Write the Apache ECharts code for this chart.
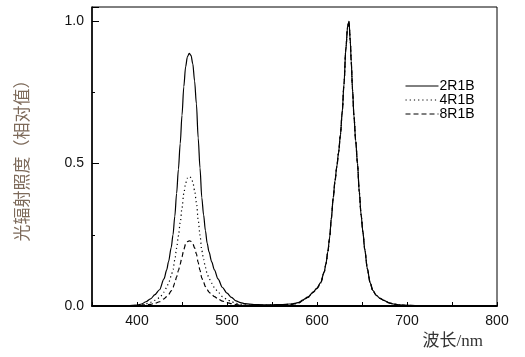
<!DOCTYPE html>
<html lang="zh">
<head>
    <meta charset="UTF-8">
    <title>光辐射照度</title>
    <script src="https://cdn.jsdelivr.net/npm/echarts@6.0.0/dist/echarts.min.js"></script>
    <style>
        html, body { margin: 0; padding: 0; background: #fff; }
    </style>
</head>
<body>
    <div id="main" style="width: 525px;height:357px;"></div>

    <script>
        // 波长 (nm)
        var wavelengths = [350, 360, 370, 380, 390, 400, 405, 410, 415, 420, 425, 430, 433, 435, 438, 440, 442, 444, 446, 448,
            450, 452, 454, 456, 458, 460, 462, 464, 466, 468, 470, 472, 474, 476, 478, 480, 483, 486, 490, 495,
            500, 505, 510, 515, 520, 530, 540, 550, 560, 570, 575, 580, 584, 590, 596, 600, 604, 608, 610, 612,
            614, 616, 618, 620, 622, 624, 626, 628, 630, 632, 634, 635.5, 637, 638, 639.5, 641, 643, 645, 647, 649,
            651, 653, 656, 659, 662, 666, 670, 674, 680, 685, 690, 700, 720, 760, 800];

        var seriesNames = ['2R1B', '4R1B', '8R1B'];

        var values2R1B = [0, 0, 0, 0.001, 0.001, 0.003, 0.007, 0.015, 0.025, 0.04, 0.057, 0.095, 0.127, 0.155, 0.205, 0.25, 0.315, 0.395, 0.48, 0.57,
            0.67, 0.77, 0.84, 0.875, 0.887, 0.88, 0.85, 0.79, 0.71, 0.59, 0.485, 0.38, 0.32, 0.265, 0.22, 0.19, 0.155, 0.127, 0.095, 0.065,
            0.045, 0.03, 0.018, 0.012, 0.008, 0.005, 0.004, 0.004, 0.005, 0.007, 0.009, 0.013, 0.021, 0.032, 0.05, 0.063, 0.082, 0.12, 0.15, 0.19,
            0.24, 0.31, 0.38, 0.44, 0.49, 0.54, 0.6, 0.68, 0.78, 0.9, 0.98, 1.0, 0.93, 0.86, 0.76, 0.67, 0.58, 0.5, 0.4, 0.32,
            0.26, 0.2, 0.13, 0.082, 0.055, 0.037, 0.027, 0.02, 0.011, 0.007, 0.004, 0.002, 0.001, 0, 0];

        var values4R1B = [0, 0, 0, 0, 0.001, 0.002, 0.004, 0.008, 0.013, 0.02, 0.029, 0.049, 0.065, 0.08, 0.105, 0.128, 0.162, 0.203, 0.246, 0.292,
            0.344, 0.395, 0.431, 0.449, 0.455, 0.451, 0.436, 0.405, 0.364, 0.303, 0.249, 0.195, 0.164, 0.136, 0.113, 0.097, 0.08, 0.065, 0.049, 0.033,
            0.023, 0.015, 0.009, 0.006, 0.004, 0.003, 0.003, 0.003, 0.004, 0.006, 0.008, 0.012, 0.02, 0.031, 0.049, 0.062, 0.081, 0.119, 0.149, 0.189,
            0.239, 0.309, 0.379, 0.439, 0.489, 0.539, 0.6, 0.68, 0.78, 0.9, 0.98, 1.0, 0.93, 0.86, 0.76, 0.67, 0.58, 0.5, 0.4, 0.32,
            0.26, 0.2, 0.13, 0.082, 0.055, 0.037, 0.027, 0.02, 0.011, 0.007, 0.004, 0.002, 0.001, 0, 0];

        var values8R1B = [0, 0, 0, 0, 0, 0.001, 0.002, 0.004, 0.006, 0.01, 0.015, 0.025, 0.033, 0.04, 0.053, 0.065, 0.081, 0.102, 0.124, 0.147,
            0.173, 0.199, 0.217, 0.226, 0.229, 0.227, 0.219, 0.204, 0.183, 0.152, 0.125, 0.098, 0.083, 0.068, 0.057, 0.049, 0.04, 0.033, 0.025, 0.017,
            0.012, 0.008, 0.005, 0.003, 0.002, 0.002, 0.002, 0.002, 0.003, 0.005, 0.007, 0.011, 0.019, 0.03, 0.048, 0.061, 0.08, 0.118, 0.148, 0.188,
            0.238, 0.308, 0.378, 0.438, 0.488, 0.538, 0.6, 0.68, 0.78, 0.9, 0.98, 1.0, 0.93, 0.86, 0.76, 0.67, 0.58, 0.5, 0.4, 0.32,
            0.26, 0.2, 0.13, 0.082, 0.055, 0.037, 0.027, 0.02, 0.011, 0.007, 0.004, 0.002, 0.001, 0, 0];

        var lineTypes = ['solid', [1.2, 3], [5, 3]];

        function toPairs(ys) {
            return wavelengths.map(function (x, i) { return [x, ys[i]]; });
        }

        var allValues = [values2R1B, values4R1B, values8R1B];

        var myChart = echarts.init(document.getElementById('main'));
        var option = {
            backgroundColor: '#fff',
            animation: false,
            grid: {
                left: 92, right: 28, top: 7, bottom: 51,
                show: true, borderColor: '#000', borderWidth: 1
            },
            legend: {
                orient: 'vertical',
                left: 400,
                top: 74,
                itemWidth: 33,
                itemHeight: 10,
                itemGap: 0,
                data: seriesNames,
                itemStyle: { opacity: 0 },
                lineStyle: { width: 1 },
                textStyle: { fontFamily: 'Liberation Sans, Arial', fontSize: 14, lineHeight: 14, color: '#000', padding: [0, 0, 0, -4] }
            },
            xAxis: {
                type: 'value',
                min: 350,
                max: 800,
                interval: 50,
                name: '波长/nm',
                nameLocation: 'end',
                nameGap: -14,
                nameTextStyle: {
                    fontFamily: 'Liberation Serif, Noto Sans CJK SC',
                    fontSize: 17, color: '#333',
                    align: 'right', verticalAlign: 'top',
                    padding: [27, 0, 0, 0]
                },
                axisLine: { lineStyle: { color: '#000', width: 2 } },
                axisTick: { inside: true, length: 4, lineStyle: { color: '#000' } },
                splitLine: { show: false },
                axisLabel: {
                    interval: 0,
                    margin: 8,
                    fontFamily: 'Liberation Sans, Arial',
                    fontSize: 14,
                    color: '#111',
                    formatter: function (v) { return v % 100 === 0 ? String(v) : ''; }
                }
            },
            yAxis: {
                type: 'value',
                min: 0,
                max: 1.05,
                interval: 0.5,
                name: '光辐射照度（相对值）',
                nameLocation: 'middle',
                nameRotate: 90,
                nameGap: 62,
                nameTextStyle: { fontFamily: 'Noto Sans CJK SC', fontSize: 17, color: '#7d6a5a' },
                axisLine: { show: true, lineStyle: { color: '#000', width: 1.5 } },
                axisTick: { inside: true, length: 7, lineStyle: { color: '#000' } },
                minorTick: { show: true, splitNumber: 2, length: 3, lineStyle: { color: '#000' } },
                splitLine: { show: false },
                axisLabel: {
                    showMaxLabel: false,
                    margin: 8,
                    fontFamily: 'Liberation Sans, Arial',
                    fontSize: 14,
                    color: '#111',
                    formatter: function (v) { return v.toFixed(1); }
                }
            },
            series: seriesNames.map(function (name, k) {
                return {
                    name: name,
                    type: 'line',
                    symbol: 'none',
                    smooth: 0.3,
                    smoothMonotone: 'x',
                    data: toPairs(allValues[k]),
                    lineStyle: { color: '#000', width: 1.2, type: lineTypes[k] },
                    itemStyle: { color: '#000' },
                    z: 3 - k
                };
            })
        };

        myChart.setOption(option);
    </script>
</body>
</html>
